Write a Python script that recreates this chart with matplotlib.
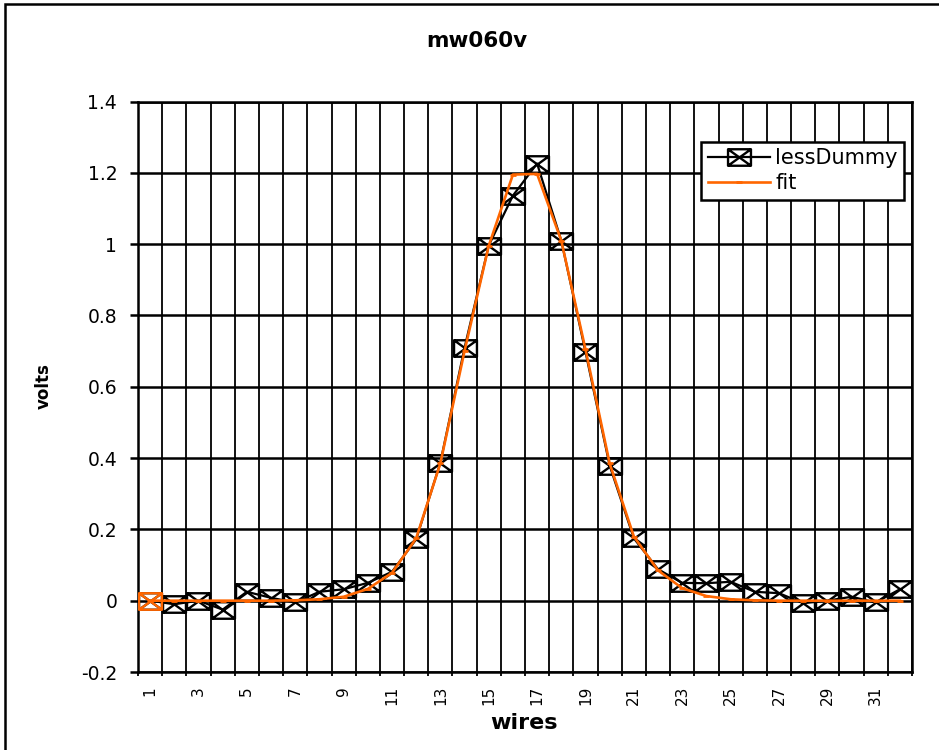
import numpy as np
import matplotlib.pyplot as plt
from matplotlib.path import Path
from matplotlib.patches import Rectangle

# wire number vs measured voltage and the gaussian fit
wires = list(range(1, 33))
less_dummy = [0.0, -0.01, 0.0, -0.025, 0.025, 0.008, -0.005, 0.025,
              0.032, 0.05, 0.081, 0.172, 0.387, 0.709, 0.996, 1.136,
              1.226, 1.01, 0.698, 0.379, 0.175, 0.088, 0.05, 0.049,
              0.053, 0.025, 0.021, -0.007, 0.0, 0.011, -0.005, 0.032]
fit = [0.0, 0.0, 0.0, 0.0, 0.0, 0.0, 0.001, 0.004,
       0.011, 0.033, 0.078, 0.175, 0.385, 0.70, 0.995, 1.195,
       1.197, 1.01, 0.705, 0.385, 0.18, 0.085, 0.035, 0.013,
       0.004, 0.001, 0.0, 0.0, 0.0, 0.0, 0.0, 0.0]

yticks = [-0.2, 0, 0.2, 0.4, 0.6, 0.8, 1, 1.2, 1.4]
ytick_labels = ['-0.2', '0', '0.2', '0.4', '0.6', '0.8', '1', '1.2', '1.4']
xticks = wires[::2]

orange = '#FF6600'

# box with a cross in it (wider than tall)
h = 0.72
box_x = Path([(-1, -h), (1, -h), (1, h), (-1, h), (-1, -h),
              (-1, -h), (1, h), (-1, h), (1, -h)],
             [Path.MOVETO, Path.LINETO, Path.LINETO, Path.LINETO, Path.CLOSEPOLY,
              Path.MOVETO, Path.LINETO, Path.MOVETO, Path.LINETO])

fig = plt.figure(figsize=(9.39, 7.5), dpi=100)
ax = fig.add_axes([138/939, 1-672/750, 774/939, 570.5/750])

ax.plot(wires, less_dummy, color='black', lw=1.6, marker=box_x, ms=16.5,
        mfc='none', mec='black', mew=1.7, label='lessDummy', zorder=3)
ax.plot(wires[:1], less_dummy[:1], ls='none', marker=box_x, ms=16.5,
        mfc='none', mec=orange, mew=1.7, zorder=3.5)
ax.plot(wires, fit, color=orange, lw=1.9, marker='_', ms=5, mew=2,
        label='fit', zorder=4)

ax.set_xlim(0.5, 32.5)
ax.set_ylim(-0.2, 1.4)
ax.set_yticks(yticks)
ax.set_yticklabels(ytick_labels, fontsize=13.5)
ax.set_xticks(xticks)
ax.set_xticklabels([str(w) for w in xticks], rotation=90, fontsize=11)
ax.set_xticks(np.arange(0.5, 33, 1), minor=True)

ax.tick_params(axis='y', length=6, width=1.8, pad=9)
ax.tick_params(axis='x', which='major', length=0, pad=10)
ax.tick_params(axis='x', which='minor', length=3, width=1.3)

ax.grid(True, axis='y', color='black', lw=1.8)
ax.grid(True, axis='x', which='minor', color='black', lw=1.3)
ax.set_axisbelow(True)
for s in ax.spines.values():
    s.set_linewidth(1.8)

leg = ax.legend(loc='upper right', bbox_to_anchor=(0.9897, 0.929),
                borderaxespad=0, fontsize=15, handlelength=3.0,
                handletextpad=0.25, labelspacing=0.25, borderpad=0.3,
                fancybox=False, framealpha=1)
leg.get_frame().set_edgecolor('black')
leg.get_frame().set_linewidth(1.8)

fig.text(0.508, 1-41/750, 'mw060v', ha='center', va='center',
         fontsize=15.5, fontweight='bold')
fig.text(44/939, 1-386/750, 'volts', ha='center', va='center',
         rotation=90, fontsize=12, fontweight='bold')
fig.text(524/939, 1-723/750, 'wires', ha='center', va='center',
         fontsize=16, fontweight='bold')

# chart border (runs off the right and bottom edges)
fig.add_artist(Rectangle((5/939, -0.1), 1.1, 1-4/750+0.1,
                         transform=fig.transFigure, fill=False,
                         ec='black', lw=1.8, clip_on=False))

plt.savefig('out.png', dpi=100)
